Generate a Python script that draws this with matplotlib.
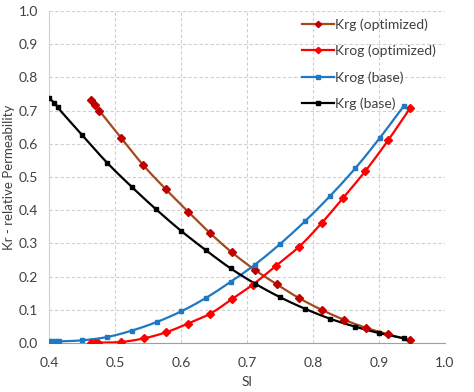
import numpy as np
import matplotlib
matplotlib.use("Agg")
import matplotlib.pyplot as plt

# ---- data ----
sl_krg_base = [0.400, 0.408, 0.413, 0.450, 0.488, 0.526, 0.562, 0.600, 0.638,
               0.675, 0.712, 0.750, 0.788, 0.826, 0.864, 0.900, 0.938]
krg_base = [0.737, 0.724, 0.710, 0.627, 0.543, 0.469, 0.403, 0.338, 0.279,
            0.225, 0.179, 0.138, 0.103, 0.073, 0.049, 0.030, 0.014]

sl_krg_opt = [0.464, 0.469, 0.476, 0.509, 0.543, 0.577, 0.611, 0.644, 0.677,
              0.712, 0.745, 0.779, 0.814, 0.847, 0.880, 0.914, 0.947]
krg_opt = [0.732, 0.716, 0.700, 0.618, 0.535, 0.463, 0.395, 0.331, 0.273,
           0.220, 0.177, 0.135, 0.099, 0.070, 0.046, 0.026, 0.009]

sl_krog_opt = [0.463, 0.469, 0.474, 0.509, 0.544, 0.577, 0.610, 0.644, 0.677,
               0.709, 0.744, 0.779, 0.813, 0.846, 0.879, 0.914, 0.947]
krog_opt = [0.000, 0.000, 0.001, 0.003, 0.014, 0.032, 0.058, 0.088, 0.132,
            0.176, 0.233, 0.290, 0.361, 0.438, 0.517, 0.611, 0.707]

sl_krog_base = [0.400, 0.405, 0.410, 0.415, 0.450, 0.488, 0.525, 0.563, 0.600,
                0.638, 0.675, 0.712, 0.750, 0.788, 0.826, 0.864, 0.901, 0.938]
krog_base = [0.005, 0.005, 0.005, 0.005, 0.008, 0.018, 0.037, 0.063, 0.095,
             0.136, 0.184, 0.236, 0.298, 0.367, 0.443, 0.526, 0.617, 0.715]

x_ticks = [0.4, 0.5, 0.6, 0.7, 0.8, 0.9, 1.0]
y_ticks = [0.0, 0.1, 0.2, 0.3, 0.4, 0.5, 0.6, 0.7, 0.8, 0.9, 1.0]


def smooth(x, y, n=20, alpha=0.5):
    """Centripetal Catmull-Rom spline through the points."""
    P = np.column_stack([x, y]).astype(float)
    P = np.vstack([2 * P[0] - P[1], P, 2 * P[-1] - P[-2]])
    out = []
    for i in range(1, len(P) - 2):
        p0, p1, p2, p3 = P[i - 1], P[i], P[i + 1], P[i + 2]
        t0 = 0.0
        t1 = t0 + max(np.linalg.norm(p1 - p0), 1e-9) ** alpha
        t2 = t1 + max(np.linalg.norm(p2 - p1), 1e-9) ** alpha
        t3 = t2 + max(np.linalg.norm(p3 - p2), 1e-9) ** alpha
        t = np.linspace(t1, t2, n)[:, None]
        A1 = (t1 - t) / (t1 - t0) * p0 + (t - t0) / (t1 - t0) * p1
        A2 = (t2 - t) / (t2 - t1) * p1 + (t - t1) / (t2 - t1) * p2
        A3 = (t3 - t) / (t3 - t2) * p2 + (t - t2) / (t3 - t2) * p3
        B1 = (t2 - t) / (t2 - t0) * A1 + (t - t0) / (t2 - t0) * A2
        B2 = (t3 - t) / (t3 - t1) * A2 + (t - t1) / (t3 - t1) * A3
        C = (t2 - t) / (t2 - t1) * B1 + (t - t1) / (t2 - t1) * B2
        out.append(C if i == 1 else C[1:])
    C = np.vstack(out)
    return C[:, 0], C[:, 1]


plt.rcParams['font.family'] = ['Lato', 'DejaVu Sans']

fig = plt.figure(figsize=(4.74, 3.92), dpi=100)
ax = fig.add_axes([0.1034, 0.125, 0.8354, 0.847])

series = [
    (sl_krg_opt, krg_opt, '#A24A1E', '#C00000', 'D', 3.6, 'Krg (optimized)'),
    (sl_krog_opt, krog_opt, '#FF0000', '#FF0000', 'D', 3.6, 'Krog (optimized)'),
    (sl_krog_base, krog_base, '#1F78C1', '#1F78C1', 's', 3.4, 'Krog (base)'),
    (sl_krg_base, krg_base, '#000000', '#000000', 's', 3.4, 'Krg (base)'),
]

handles = []
for xs, ys, lc, mc, mk, ms, lab in series:
    sx, sy = smooth(xs, ys)
    ax.plot(sx, sy, color=lc, lw=1.6, zorder=3)
    ax.plot(xs, ys, ls='none', marker=mk, ms=ms, color=mc, zorder=4)
    h, = ax.plot([], [], color=lc, lw=1.6, marker=mk, ms=3.2, mfc=mc, mec=mc, label=lab)
    handles.append(h)

ax.set_xlim(0.4, 1.0)
ax.set_ylim(0.0, 1.0)
ax.set_xticks(x_ticks)
ax.set_yticks(y_ticks)
ax.set_xticklabels([f"{v:.1f}" for v in x_ticks])
ax.set_yticklabels([f"{v:.1f}" for v in y_ticks])
ax.tick_params(length=0, labelsize=10, colors='#404040')
ax.tick_params(axis='x', pad=10)
ax.tick_params(axis='y', pad=8)
ax.grid(True, color='#D0D0D0', ls=(0, (3, 2)), lw=0.8)
ax.set_axisbelow(True)
for s in ['top', 'right']:
    ax.spines[s].set_visible(False)
ax.spines['left'].set_color('#D0D0D0')
ax.spines['bottom'].set_color('#A0A0A0')

ax.set_xlabel('Sl', fontsize=10, color='#404040', labelpad=5)
ax.set_ylabel('Kr - relative Permeability', fontsize=9.5, color='#404040')
ax.yaxis.set_label_coords(-0.085, 0.5)

leg = ax.legend(handles=handles, loc='upper left', bbox_to_anchor=(0.625, 0.995),
                frameon=False, fontsize=10, handlelength=2.3, handletextpad=0.1,
                labelspacing=1.0, borderaxespad=0)
for t in leg.get_texts():
    t.set_color('#404040')

fig.savefig('out.png', dpi=100)
